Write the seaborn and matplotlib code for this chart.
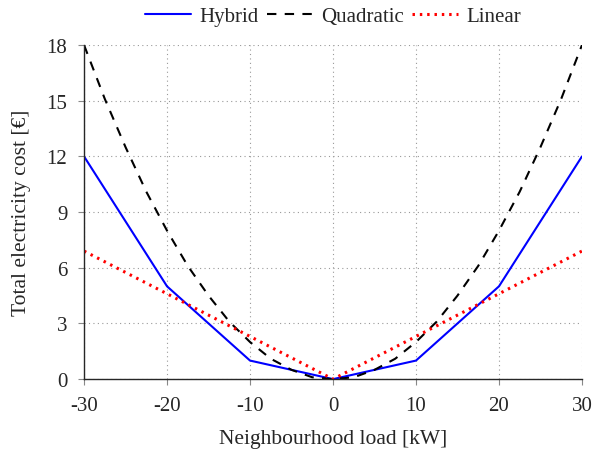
import pandas as pd
import seaborn as sns
import matplotlib.pyplot as plt

# --- dati ---
carico = [-30, -20, -10, 0, 10, 20, 30]
costo_hybrid = [12, 5, 1, 0, 1, 5, 12]
costo_linear = [6.9, 4.6, 2.3, 0, 2.3, 4.6, 6.9]

carico_quad = [-30, -27.5, -25, -22.5, -20, -17.5, -15, -12.5, -10, -7.5, -5, -2.5, 0,
               2.5, 5, 7.5, 10, 12.5, 15, 17.5, 20, 22.5, 25, 27.5, 30]
costo_quad = [18, 15.1, 12.5, 10.1, 8, 6.1, 4.5, 3.1, 2, 1.1, 0.5, 0.1, 0,
              0.1, 0.5, 1.1, 2, 3.1, 4.5, 6.1, 8, 10.1, 12.5, 15.1, 18]

x_ticks = [-30, -20, -10, 0, 10, 20, 30]
y_ticks = [0, 3, 6, 9, 12, 15, 18]

sns.set_style('ticks')
plt.rcParams['font.family'] = ['Liberation Serif', 'DejaVu Serif']
plt.rcParams['mathtext.fontset'] = 'stix'

fig = plt.figure(figsize=(5.92, 4.52), dpi=100)
ax = fig.add_axes([0.142, 0.159, 0.841, 0.739])

sns.lineplot(x=carico, y=costo_hybrid, ax=ax, color='blue', lw=1.5, label='Hybrid')
sns.lineplot(x=carico_quad, y=costo_quad, ax=ax, color='black', lw=1.5,
             linestyle=(0, (4.5, 4)), label='Quadratic')
sns.lineplot(x=carico, y=costo_linear, ax=ax, color='red', lw=2.2,
             linestyle=(0, (0.8, 1.6)), label='Linear')

ax.set_xlim(-30, 30)
ax.set_ylim(0, 18)
ax.set_xticks(x_ticks)
ax.set_yticks(y_ticks)
ax.set_xticklabels([str(t) for t in x_ticks])
ax.tick_params(labelsize=15, length=4, width=0.8, color='#888888', pad=8)
ax.grid(True, linestyle=(0, (1, 3)), color='#999999', lw=0.8)
for lato in ['top', 'right']:
    ax.spines[lato].set_visible(False)
ax.spines['left'].set_linewidth(1.0)
ax.spines['bottom'].set_linewidth(1.0)

ax.set_xlabel('Neighbourhood load [kW]', fontsize=15.5, labelpad=10)
ax.set_ylabel('Total electricity cost [€]', fontsize=15.5, labelpad=11)

ax.legend(loc='lower center', bbox_to_anchor=(0.5, 1.056), ncol=3, frameon=False,
          fontsize=15, handlelength=2.2, columnspacing=0.4, handletextpad=0.4,
          borderaxespad=0.0, borderpad=0.0)

plt.savefig('out.png', dpi=100)
